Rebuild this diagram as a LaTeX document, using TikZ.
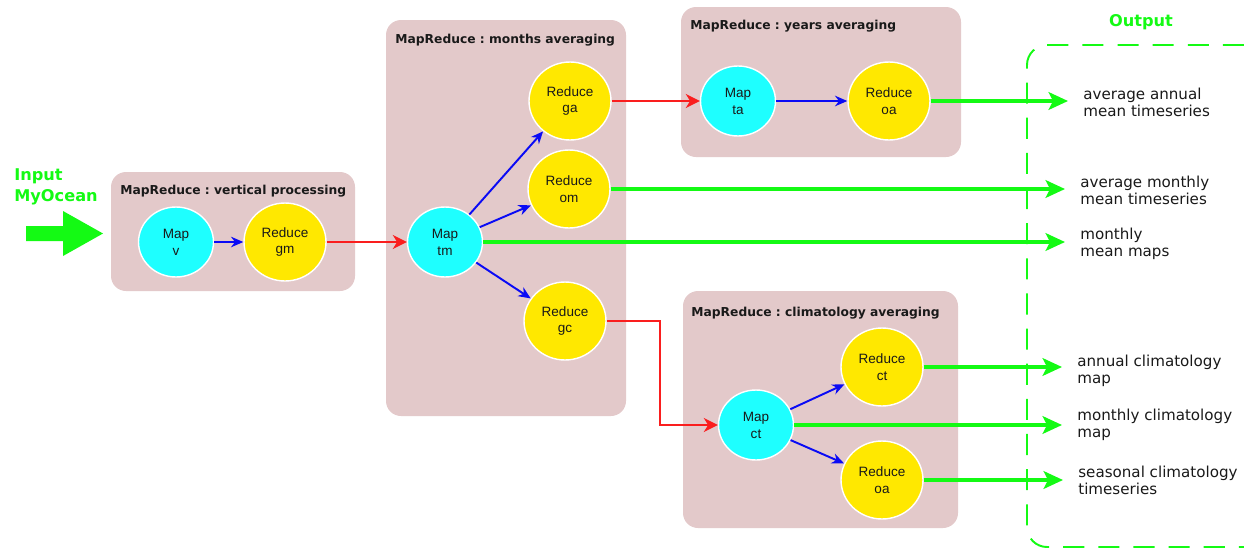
\documentclass[tikz,border=0pt]{standalone}
\usepackage{fontspec}
\setmainfont{DejaVu Sans}
\newfontfamily\circfont{Liberation Sans}
\usetikzlibrary{arrows.meta,shapes.geometric,positioning}
\frenchspacing

\definecolor{mapcyan}{RGB}{30,255,255}
\definecolor{redyellow}{RGB}{255,232,0}
\definecolor{boxpink}{RGB}{227,201,202}
\definecolor{flowgreen}{RGB}{20,250,20}
\definecolor{flowblue}{RGB}{10,10,245}
\definecolor{flowred}{RGB}{250,30,30}
\definecolor{textgray}{RGB}{25,25,25}

\begin{document}
\begin{tikzpicture}[x=0.02cm,y=-0.02cm,
    mapnode/.style={ellipse,fill=mapcyan,draw=white,line width=0.8pt,minimum width=1.5cm,minimum height=1.4cm,
      inner sep=0pt,align=center,font=\circfont\fontsize{7.7}{9.6}\selectfont,text=textgray},
    rednode/.style={mapnode,fill=redyellow,minimum width=1.64cm,minimum height=1.56cm},
    mrbox/.style={fill=boxpink,rounded corners=0.3cm},
    mrtitle/.style={anchor=west,inner sep=0pt,font=\bfseries\fontsize{7}{8.4}\selectfont,text=textgray},
    bluearrow/.style={-{Stealth[length=7pt,width=6pt]},draw=flowblue,line width=1.1pt},
    redarrow/.style={-{Stealth[length=8pt,width=8pt,inset=2.5pt]},draw=flowred,line width=1pt},
    greenarrow/.style={-{Stealth[length=11pt,width=10pt,inset=2.5pt]},draw=flowgreen,line width=2.3pt,shorten >=0.3cm},
    outtext/.style={anchor=west,inner sep=0pt,align=left,font=\fontsize{8.6}{9.7}\selectfont,text=textgray},
    iotitle/.style={inner sep=0pt,align=left,text=flowgreen,font=\bfseries\fontsize{9.2}{12}\selectfont}]
  \useasboundingbox (0,0) rectangle (1244,548);

  % Input arrow and label
  \fill[flowgreen] (26,226) -- (63,226) -- (63,211) -- (103,233.5) -- (63,256) -- (63,241) -- (26,241) -- cycle;
  \node[iotitle,anchor=west] (intitle) at (14,187) {Input\\MyOcean};

  % Box vertical processing
  \fill[mrbox] (111,172) rectangle (355,291);
  \node[mrtitle] (vtitle) at (120,191) {MapReduce : vertical processing};
  \node[mapnode] (mv) at (176,242) {Map\\v};
  \node[rednode] (rgm) at (285,242) {Reduce\\gm};

  % Box months averaging
  \fill[mrbox] (386,20) rectangle (626,416);
  \node[mrtitle] (mtitle) at (395,40) {MapReduce : months averaging};
  \node[mapnode] (mtm) at (445,242) {Map\\tm};
  \node[rednode] (rga) at (570,101) {Reduce\\ga};
  \node[rednode] (rom) at (569,189) {Reduce\\om};
  \node[rednode] (rgc) at (565,321) {Reduce\\gc};

  % Box years averaging
  \fill[mrbox] (681,7) rectangle (961,157);
  \node[mrtitle] (ytitle) at (690,26) {MapReduce : years averaging};
  \node[mapnode] (mta) at (738,101) {Map\\ta};
  \node[rednode] (roa) at (889,101) {Reduce\\oa};

  % Box climatology averaging
  \fill[mrbox] (683,291) rectangle (958,528);
  \node[mrtitle] (ctitle) at (691,313) {MapReduce : climatology averaging};
  \node[mapnode] (mct) at (756,425) {Map\\ct};
  \node[rednode] (rct) at (882,367) {Reduce\\ct};
  \node[rednode] (rcoa) at (882,480) {Reduce\\oa};

  % Output frame and texts
  \draw[flowgreen,line width=1.1pt,dash pattern=on 12pt off 8pt,rounded corners=0.4cm] (1244,45) -| (1027,547) -- (1244,547);
  \node[iotitle] (outtitle) at (1141,22) {Output};
  \node[outtext] (o1) at (1083,102) {average annual\\mean timeseries};
  \node[outtext] (o2) at (1080,190) {average monthly\\mean timeseries};
  \node[outtext] (o3) at (1080,244) {monthly\\mean maps};
  \node[outtext] (o4) at (1077,371) {annual climatology\\map};
  \node[outtext] (o5) at (1077,425) {monthly climatology\\map};
  \node[outtext] (o6) at (1078,480) {seasonal climatology\\timeseries};

  % Map -> Reduce
  \draw[bluearrow] (mv) -- (rgm);
  \draw[bluearrow] (mtm) -- (rga);
  \draw[bluearrow] (mtm) -- (rom);
  \draw[bluearrow] (mtm) -- (rgc);
  \draw[bluearrow] (mta) -- (roa);
  \draw[bluearrow] (mct) -- (rct);
  \draw[bluearrow] (mct) -- (rcoa);

  % Reduce -> next Map
  \draw[redarrow] (rgm) -- (mtm);
  \draw[redarrow] (rga) -- (mta);
  \coordinate (gcbend) at (660,321);
  \draw[redarrow] (rgc.east) -- (gcbend) |- (mct.west);

  % Results
  \draw[greenarrow] (roa.east) -- (roa.east -| o1.west);
  \draw[greenarrow] (rom.east) -- (rom.east -| o2.west);
  \draw[greenarrow] (mtm.east) -- (mtm.east -| o3.west);
  \draw[greenarrow] (rct.east) -- (rct.east -| o4.west);
  \draw[greenarrow] (mct.east) -- (mct.east -| o5.west);
  \draw[greenarrow] (rcoa.east) -- (rcoa.east -| o6.west);
\end{tikzpicture}
\end{document}
